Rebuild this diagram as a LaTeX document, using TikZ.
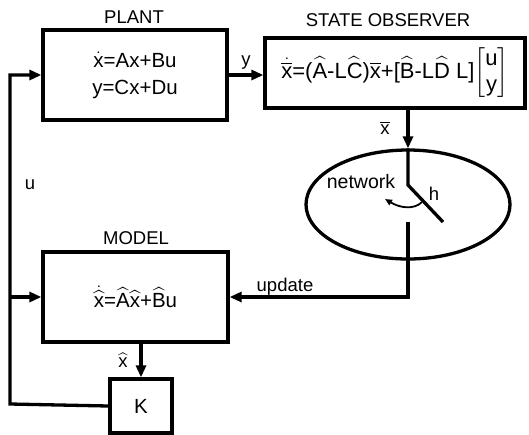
\documentclass[tikz,border=0pt]{standalone}
\usepackage{amsmath}
\usepackage{fontspec}
\setmainfont{Liberation Sans}
\usetikzlibrary{arrows.meta,shapes.geometric}
\newcommand{\tdot}[1]{\ensuremath{\dot{\mbox{#1}}}}
\newcommand{\that}[1]{\ensuremath{\widehat{\mbox{#1}}}}
\newcommand{\tbar}[1]{\ensuremath{\overline{\mbox{#1}}}}

\begin{document}
\begin{tikzpicture}[x=1pt,y=-1pt,line width=3.3pt,
  blk/.style={draw,rectangle,inner sep=0pt,font=\fontsize{20.5}{27}\selectfont,align=center},
  lbl/.style={font=\fontsize{18.5}{20}\selectfont,inner sep=1pt},
  arr/.style={-{Triangle[length=12pt,width=10pt]}}]
  \useasboundingbox (0,0) rectangle (529,434);
  % blocks
  \node[blk,minimum width=184pt,minimum height=90pt] (plant) at (135,75)
    {\tdot{x}=Ax+Bu\\y=Cx+Du};
  \node[blk,minimum width=260pt,minimum height=70pt,font=\fontsize{22}{27}\selectfont] (obs) at (395,73)
    {\ensuremath{\dot{\overline{\mbox{x}}}}=(\that{A}-L\that{C})\tbar{x}+[\that{B}-L\that{D} L]%
     \ensuremath{\left[\begin{array}{@{}c@{}}\mbox{u}\\[-1pt]\mbox{y}\end{array}\right]}};
  \node[blk,minimum width=185pt,minimum height=90pt] (model) at (135.5,297)
    {\ensuremath{\dot{\widehat{\mbox{x}}}}=\that{A}\that{x}+\that{B}u};
  \node[blk,minimum width=62pt,minimum height=54pt] (K) at (141,406) {K};
  \node[draw,ellipse,inner sep=0pt,minimum width=204pt,minimum height=109pt] (net) at (408,204.5) {};
  % titles and labels
  \node[lbl] (tplant) at (134,17) {PLANT};
  \node[lbl] (tobs) at (388,20) {STATE OBSERVER};
  \node[lbl] (tmodel) at (136,238) {MODEL};
  \node[lbl] (ly) at (246,63) {y};
  \node[lbl] (lxbar) at (385,128) {\tbar{x}};
  \node[lbl,font=\fontsize{19.5}{20}\selectfont] (lnet) at (361,182) {network};
  \node[lbl] (lh) at (434,194) {h};
  \node[lbl] (lupd) at (285,287) {update};
  \node[lbl] (lu) at (30,185) {u};
  \node[lbl] (lxhat) at (123,360) {\that{x}};
  % switch inside the network
  \coordinate (sw) at (408,185);
  \coordinate (swend) at (443,222);
  \coordinate (swout) at (408,222);
  \coordinate (fb) at (10,404);
  % connectors
  \draw[arr] (plant.east) -- (plant.east -| obs.west);
  \draw[arr] (net.north |- obs.south) -- (net.north);
  \draw (net.north) -- (sw) -- (swend);
  \draw[arr] (swout) -- (swout |- model.east) -- (model.east);
  \draw[arr] (K.north |- model.south) -- (K.north);
  \draw[arr] (K.west) -- (fb) -- (fb |- plant.west) -- (plant.west);
  \draw[arr] (fb |- model.west) -- (model.west);
  \draw[line width=1.8pt,-{Triangle[length=7pt,width=6pt]}] (422,202) .. controls (414,210) and (400,208) .. (385,199);
\end{tikzpicture}
\end{document}
